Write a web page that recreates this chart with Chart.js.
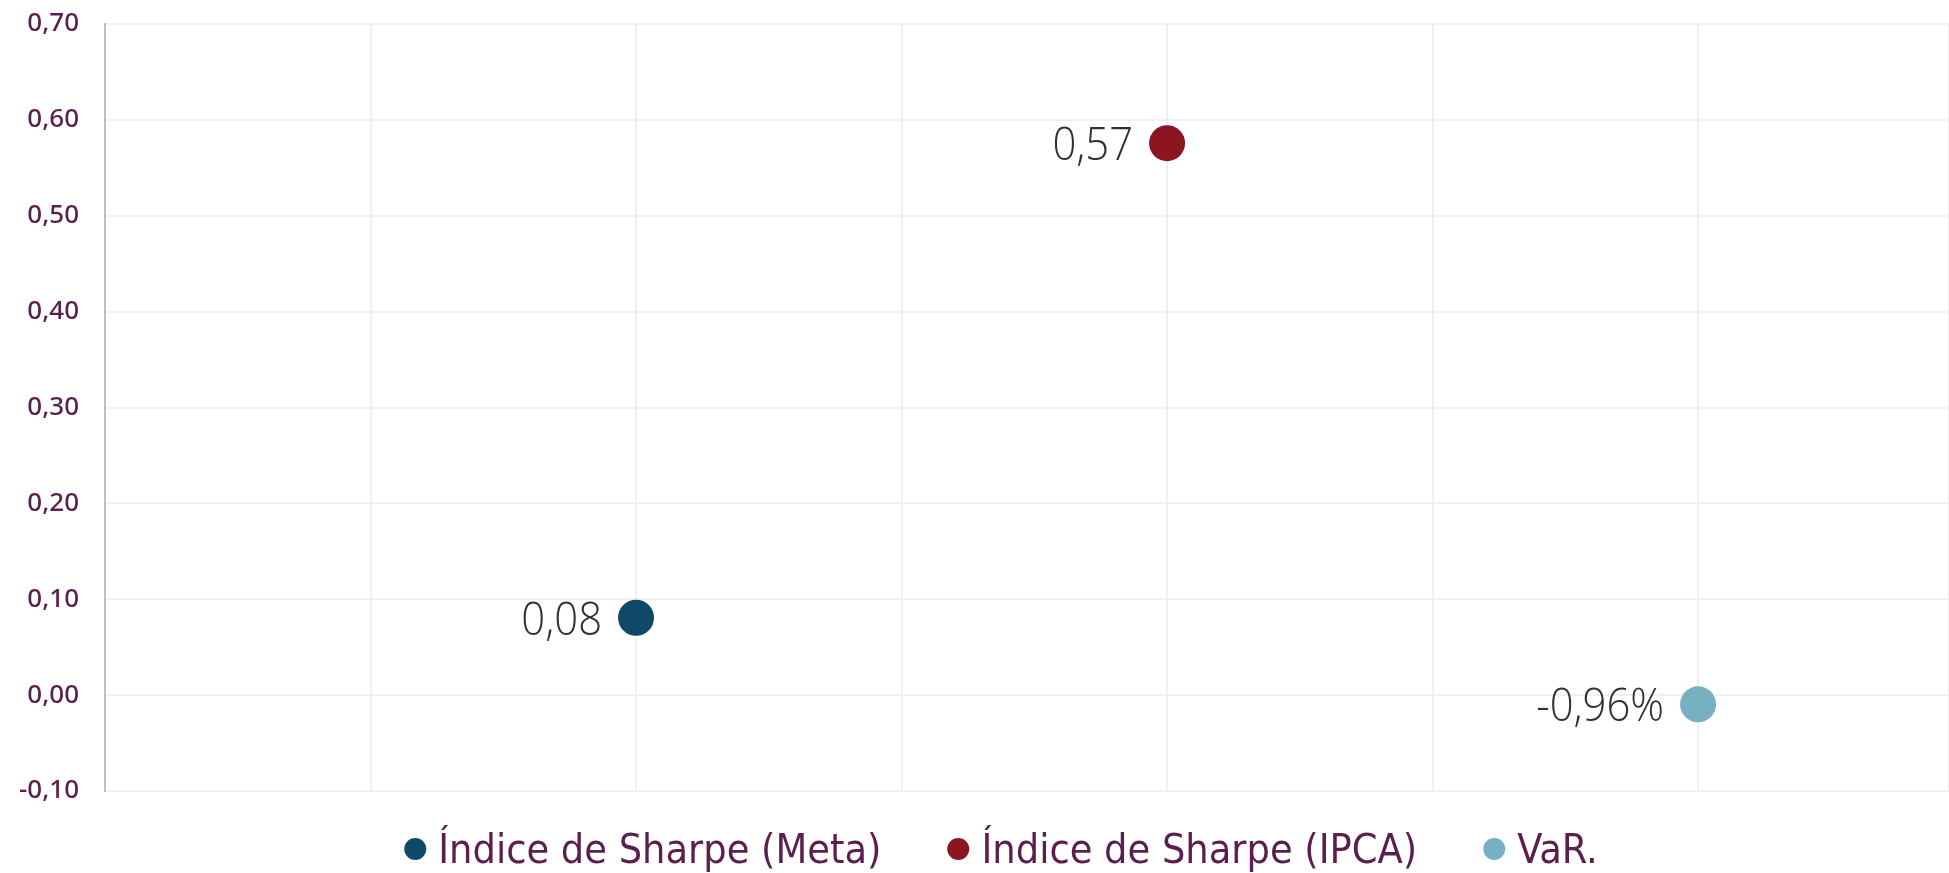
<!DOCTYPE html>
<html>
<head>
<meta charset="utf-8">
<script src="https://cdn.jsdelivr.net/npm/chart.js@4.4.0/dist/chart.umd.min.js"></script>
<style>
  html, body { margin: 0; padding: 0; background: #ffffff; }
  #wrap { position: relative; width: 1949px; height: 873px; }
  #legend { position: absolute; top: 824px; left: 1001px; transform: translateX(-50%);
            display: flex; align-items: center; white-space: nowrap;
            font-family: "DejaVu Sans Condensed", "Liberation Sans Narrow", sans-serif;
            font-size: 41px; color: #5a1f4e; line-height: 50px; }
  .item { display: flex; align-items: center; margin-right: 66px; }
  .item:last-child { margin-right: 0; }
  .dot { width: 22px; height: 22px; border-radius: 50%; margin-right: 12px; }
</style>
</head>
<body>
<div id="wrap">
  <canvas id="c" width="1949" height="873"></canvas>
  <div id="legend"></div>
</div>
<script>
// ---- data ----
const seriesNames = ['Índice de Sharpe (Meta)', 'Índice de Sharpe (IPCA)', 'VaR.'];
const seriesX = [2, 4, 6];
const seriesValues = [0.0807, 0.5757, -0.0096];
const pointLabels = ['0,08', '0,57', '-0,96%'];
const seriesColors = ['#0f4868', '#8c1520', '#76b1c2'];
const yTickMin = -0.10, yTickMax = 0.70, yTickStep = 0.10;

const datasets = seriesNames.map((name, i) => ({
  label: name,
  data: [{ x: seriesX[i], y: seriesValues[i] }],
  backgroundColor: seriesColors[i],
  borderWidth: 0,
  pointRadius: 18,
  pointHoverRadius: 18
}));

const labelPlugin = {
  id: 'pointLabels',
  afterDatasetsDraw(chart) {
    const ctx = chart.ctx;
    chart.data.datasets.forEach((ds, i) => {
      const meta = chart.getDatasetMeta(i);
      meta.data.forEach(el => {
        ctx.save();
        ctx.font = '300 46px "Open Sans"';
        ctx.fillStyle = '#303030';
        ctx.textAlign = 'right';
        ctx.textBaseline = 'alphabetic';
        ctx.translate(el.x - 34, el.y + 17);
        ctx.scale(0.91, 1);
        ctx.fillText(pointLabels[i], 0, 0);
        ctx.restore();
      });
    });
  }
};

new Chart(document.getElementById('c'), {
  type: 'scatter',
  data: { datasets },
  options: {
    responsive: false,
    animation: false,
    events: [],
    layout: { autoPadding: false, padding: { top: 24, right: 0, bottom: 82, left: 0 } },
    plugins: { legend: { display: false }, tooltip: { enabled: false } },
    scales: {
      x: {
        type: 'linear',
        min: 0,
        max: 6.945,
        ticks: { display: false, stepSize: 1 },
        grid: { color: '#f0f0f0', lineWidth: 2, drawTicks: false },
        border: { display: false }
      },
      y: {
        min: yTickMin,
        max: yTickMax,
        afterFit: s => { s.width = 105; s.paddingTop = 0; s.paddingBottom = 0; },
        ticks: {
          stepSize: yTickStep,
          padding: 26,
          color: '#5a1f4e',
          font: { family: '"Noto Sans"', size: 26, weight: '500' },
          callback: v => (Math.abs(v) < 1e-9 ? 0 : v).toFixed(2).replace('.', ',')
        },
        grid: { color: '#f0f0f0', lineWidth: 2, drawTicks: false },
        border: { display: true, color: '#bfbfbf', width: 2 }
      }
    }
  },
  plugins: [labelPlugin]
});

const legend = document.getElementById('legend');
seriesNames.forEach((name, i) => {
  const item = document.createElement('div');
  item.className = 'item';
  const dot = document.createElement('span');
  dot.className = 'dot';
  dot.style.background = seriesColors[i];
  const txt = document.createElement('span');
  txt.textContent = name;
  item.appendChild(dot);
  item.appendChild(txt);
  legend.appendChild(item);
});
</script>
</body>
</html>
